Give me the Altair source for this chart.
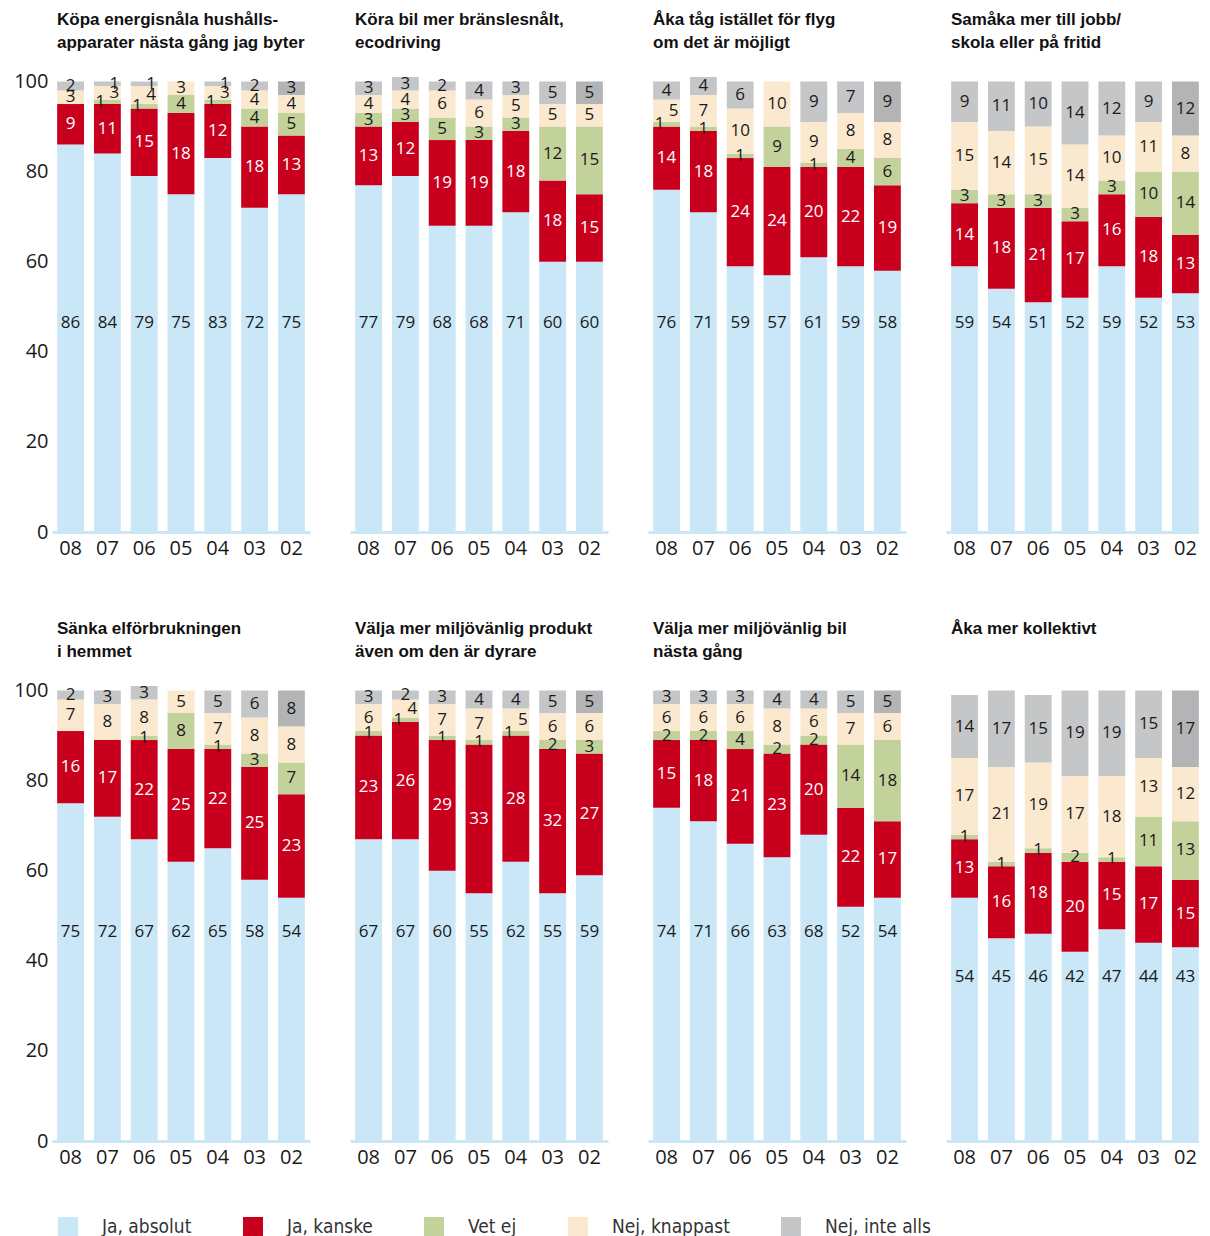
import altair as alt
import pandas as pd

years = ["08", "07", "06", "05", "04", "03", "02"]
categories = ["Ja, absolut", "Ja, kanske", "Vet ej", "Nej, knappast", "Nej, inte alls"]
colors = ["#c9e7f7", "#c8001e", "#c3d19b", "#fbe9cf", "#c5c6c8"]
dark_gray_key = "Nej, inte alls 02"
dark_gray = "#b3b4b6"

titles = [
    ["Köpa energisnåla hushålls-", "apparater nästa gång jag byter"],
    ["Köra bil mer bränslesnålt,", "ecodriving"],
    ["Åka tåg istället för flyg", "om det är möjligt"],
    ["Samåka mer till jobb/", "skola eller på fritid"],
    ["Sänka elförbrukningen", "i hemmet"],
    ["Välja mer miljövänlig produkt", "även om den är dyrare"],
    ["Välja mer miljövänlig bil", "nästa gång"],
    ["Åka mer kollektivt", " "],
]

# rows: Ja absolut, Ja kanske, Vet ej, Nej knappast, Nej inte alls; columns: years
hushall = [[86, 84, 79, 75, 83, 72, 75], [9, 11, 15, 18, 12, 18, 13], [0, 1, 1, 4, 1, 4, 5],
           [3, 3, 4, 3, 3, 4, 4], [2, 1, 1, 0, 1, 2, 3]]
bransle = [[77, 79, 68, 68, 71, 60, 60], [13, 12, 19, 19, 18, 18, 15], [3, 3, 5, 3, 3, 12, 15],
           [4, 4, 6, 6, 5, 5, 5], [3, 3, 2, 4, 3, 5, 5]]
tag = [[76, 71, 59, 57, 61, 59, 58], [14, 18, 24, 24, 20, 22, 19], [1, 1, 1, 9, 1, 4, 6],
       [5, 7, 10, 10, 9, 8, 8], [4, 4, 6, 0, 9, 7, 9]]
samaka = [[59, 54, 51, 52, 59, 52, 53], [14, 18, 21, 17, 16, 18, 13], [3, 3, 3, 3, 3, 10, 14],
          [15, 14, 15, 14, 10, 11, 8], [9, 11, 10, 14, 12, 9, 12]]
el = [[75, 72, 67, 62, 65, 58, 54], [16, 17, 22, 25, 22, 25, 23], [0, 0, 1, 8, 1, 3, 7],
      [7, 8, 8, 5, 7, 8, 8], [2, 3, 3, 0, 5, 6, 8]]
produkt = [[67, 67, 60, 55, 62, 55, 59], [23, 26, 29, 33, 28, 32, 27], [1, 1, 1, 1, 1, 2, 3],
           [6, 4, 7, 7, 5, 6, 6], [3, 2, 3, 4, 4, 5, 5]]
bil = [[74, 71, 66, 63, 68, 52, 54], [15, 18, 21, 23, 20, 22, 17], [2, 2, 4, 2, 2, 14, 18],
       [6, 6, 6, 8, 6, 7, 6], [3, 3, 3, 4, 4, 5, 5]]
kollektivt = [[54, 45, 46, 42, 47, 44, 43], [13, 16, 18, 20, 15, 17, 15], [1, 1, 1, 2, 1, 11, 13],
              [17, 21, 19, 17, 18, 13, 12], [14, 17, 15, 19, 19, 15, 17]]

panels = [hushall, bransle, tag, samaka, el, produkt, bil, kollektivt]
# level (in %) where the "Ja, absolut" numbers are written in each panel
absolut_label_level = [46.5, 46.5, 46.5, 46.5, 46.5, 46.5, 46.5, 36.5]

NUM_FONT = "Open Sans"
TITLE_FONT = "Liberation Sans"
LEGEND_FONT = "Liberation Sans Narrow, DejaVu Sans Condensed, Liberation Sans"
TEXT = "#1a1a1a"
PW, PH = 258, 464


def make_df(vals, level):
    rows = []
    for yi, yr in enumerate(years):
        col = [vals[ci][yi] for ci in range(5)]
        base = 0
        for ci, cat in enumerate(categories):
            v = col[ci]
            y0, y1 = base, base + v
            base = y1
            key = dark_gray_key if (ci == 4 and yr == "02") else cat
            ly = level if ci == 0 else (y0 + y1) / 2
            pos = "C"
            if ci == 2 and v == 1 and col[3] <= 5:
                pos = "L"
            if ci == 3 and col[2] == 1 and v <= 5:
                pos = "R"
            if ci == 4 and v == 1:
                pos = "R"
            rows.append(dict(year=yr, cat=cat, key=key, v=v, y0=y0, y1=y1, ly=ly, pos=pos))
    df = pd.DataFrame(rows)
    return df[df.v > 0]


color_scale = alt.Scale(domain=categories + [dark_gray_key], range=colors + [dark_gray])
legend = alt.Legend(
    title=None, orient="none", legendX=6, legendY=1149, direction="horizontal", columns=5,
    symbolType="square", symbolSize=400, symbolStrokeWidth=0, labelFontSize=19,
    labelFont=LEGEND_FONT, labelColor="#333", labelOffset=24, columnPadding=51,
    values=categories,
)
yscale = alt.Scale(domain=[0, 103], nice=False, zero=True)
xscale = alt.Scale(paddingInner=0.27, paddingOuter=0.14)
xaxis = alt.Axis(title=None, labelAngle=0, labelFontSize=20, labelFont=NUM_FONT, labelColor=TEXT,
                 ticks=False, domainColor="#c9e7f7", domainWidth=3, labelPadding=6)


def panel(i):
    df = make_df(panels[i], absolut_label_level[i])
    if i % 4 == 0:
        yaxis = alt.Axis(title=None, values=[0, 20, 40, 60, 80, 100], labelFontSize=20,
                         labelFont=NUM_FONT, labelColor=TEXT, ticks=False, domain=False,
                         grid=False, labelPadding=4)
    else:
        yaxis = None
    x = alt.X("year:N", sort=years, scale=xscale, axis=xaxis)
    bars = alt.Chart(df).mark_bar().encode(
        x=x,
        y=alt.Y("y0:Q", scale=yscale, axis=yaxis),
        y2="y1:Q",
        color=alt.Color("key:N", scale=color_scale, legend=legend),
    )
    layers = [bars]
    for pos, dx in [("C", 0), ("L", -7), ("R", 7)]:
        t = alt.Chart(df).transform_filter(alt.datum.pos == pos).mark_text(
            dx=dx, fontSize=17, font=NUM_FONT, baseline="middle", align="center"
        ).encode(
            x=x,
            y=alt.Y("ly:Q", scale=yscale, axis=yaxis),
            text=alt.Text("v:Q"),
            color=alt.condition(alt.datum.cat == "Ja, kanske", alt.value("#ffffff"), alt.value(TEXT)),
        )
        layers.append(t)
    return alt.layer(*layers).properties(
        width=PW, height=PH,
        title=alt.TitleParams(text=titles[i], anchor="start", frame="group", fontSize=17,
                              fontWeight="bold", font=TITLE_FONT, color="#111", lineHeight=23,
                              offset=16, dx=5),
    )


row1 = alt.hconcat(*[panel(i) for i in range(4)], spacing=40)
row2 = alt.hconcat(*[panel(i) for i in range(4, 8)], spacing=40)
chart = alt.vconcat(row1, row2, spacing=62).properties(
    padding={"left": 5, "top": 3, "right": -5, "bottom": 0}
).configure_view(stroke=None)

chart.save("out.html", embed_options={"renderer": "svg", "actions": False})
